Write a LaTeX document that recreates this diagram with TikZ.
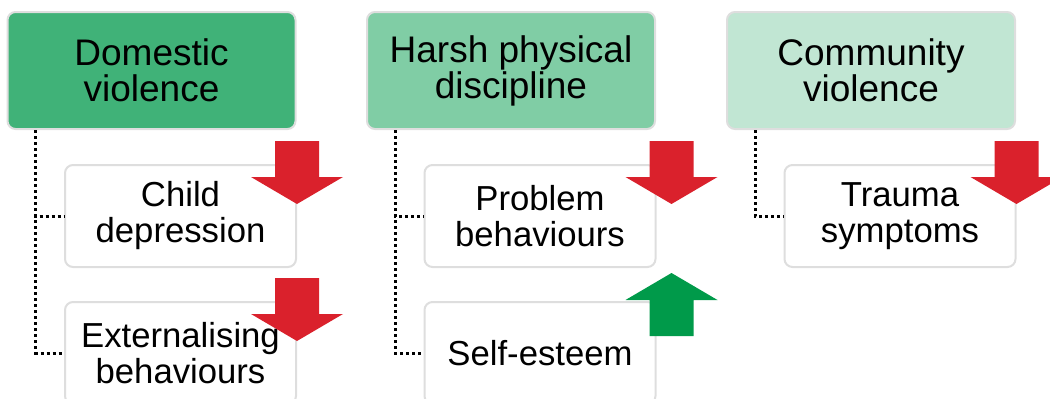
\documentclass[tikz,border=0pt]{standalone}
\usepackage{fontspec}
\setmainfont{Liberation Sans}
\usetikzlibrary{positioning}

\definecolor{riskdark}{RGB}{64,178,120}
\definecolor{riskmid}{RGB}{128,205,165}
\definecolor{risklight}{RGB}{193,230,211}
\definecolor{edgegray}{RGB}{222,222,222}
\definecolor{worsered}{RGB}{218,33,44}
\definecolor{bettergreen}{RGB}{0,154,74}

\tikzset{
  riskbox/.style={draw=edgegray,line width=2pt,rounded corners=8pt,
    minimum width=288pt,minimum height=117pt,align=center,
    font=\fontsize{37}{36}\selectfont},
  outcomebox/.style={draw=edgegray,line width=2pt,rounded corners=8pt,fill=white,
    minimum width=231pt,minimum height=102pt,align=center,
    font=\fontsize{34.7}{36}\selectfont},
  link/.style={line width=3pt,dash pattern=on 3pt off 3pt},
  arrowdown/.pic={\fill[worsered] (-22,0) -- (22,0) -- (22,36) -- (46,36)
    -- (0,63) -- (-46,36) -- (-22,36) -- cycle;},
  arrowup/.pic={\fill[bettergreen] (-22,0) -- (22,0) -- (22,-36) -- (46,-36)
    -- (0,-63) -- (-46,-36) -- (-22,-36) -- cycle;}
}

\begin{document}
\begin{tikzpicture}[x=1pt,y=-1pt]
\useasboundingbox (0,0) rectangle (1050,399);

% Exposures
\node[riskbox,fill=riskdark] (dv) at (151.5,70.5) {Domestic\\violence};
\node[riskbox,fill=riskmid] (hpd) at (511,70.5) {Harsh physical\\discipline};
\node[riskbox,fill=risklight] (cv) at (871,70.5) {Community\\violence};

% Outcomes
\node[outcomebox] (cd) at (180.5,216) {Child\\depression};
\node[outcomebox] (eb) at (180.5,353) {Externalising\\behaviours};
\node[outcomebox] (pb) at (540,216) {Problem\\behaviours};
\node[outcomebox] (se) at (540,353) {Self-esteem};
\node[outcomebox] (ts) at (900,216) {Trauma\\symptoms};

% Links
\draw[link] ([xshift=29pt]dv.south west) |- (cd.west);
\draw[link] ([xshift=29pt]dv.south west) |- (eb.west);
\draw[link] ([xshift=29pt]hpd.south west) |- (pb.west);
\draw[link] ([xshift=29pt]hpd.south west) |- (se.west);
\draw[link] ([xshift=29pt]cv.south west) |- (ts.west);

% Direction of effect
\pic at ([yshift=23pt]cd.north east) {arrowdown};
\pic at ([yshift=23pt]eb.north east) {arrowdown};
\pic at ([xshift=15pt,yshift=23pt]pb.north east) {arrowdown};
\pic at ([xshift=15pt,yshift=-35pt]se.north east) {arrowup};
\pic at ([yshift=23pt]ts.north east) {arrowdown};
\end{tikzpicture}
\end{document}
